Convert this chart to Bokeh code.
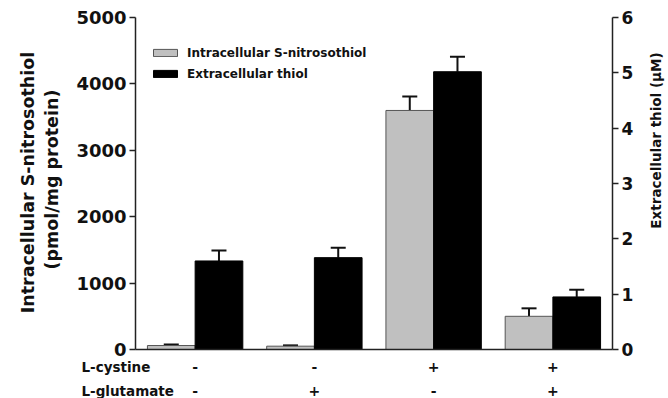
import numpy as np
from math import pi
from bokeh.plotting import figure
from bokeh.models import (Range1d, LinearAxis, FixedTicker, Whisker, TeeHead, Label,
                          ColumnDataSource)
from bokeh.embed import file_html
from bokeh.resources import INLINE

# ---- data ----
cystine = ["-", "-", "+", "+"]
glutamate = ["-", "+", "-", "+"]
snoh = [60, 50, 3600, 500]            # pmol/mg protein (left axis)
snoh_err = [15, 12, 210, 120]
thiol = [1.60, 1.66, 5.02, 0.95]      # µM (right axis)
thiol_err = [0.19, 0.18, 0.27, 0.13]
left_ticks = [0, 1000, 2000, 3000, 4000, 5000]
right_ticks = [0, 1, 2, 3, 4, 5, 6]
row_names = ["L-cystine", "L-glutamate"]
series_names = ["Intracellular S-nitrosothiol", "Extracellular thiol"]
left_title = ["Intracellular S-nitrosothiol", "(pmol/mg protein)"]
right_title = "Extracellular thiol (µM)"

FONT = "DejaVu Sans"
n = len(cystine)
centers = np.arange(n) + 0.5
bw = 0.4

# ---- layout (pixels in the canvas) ----
W, H = 668, 398
AX_L, AX_R = 135, 612      # left / right axis x
AX_B, AX_T = 349, 17       # y of 0 and of top tick
pxu_x = (AX_R - AX_L) / n
lo, hi = left_ticks[0], left_ticks[-1]
pxu_y = (AX_B - AX_T) / (hi - lo)
x0 = -AX_L / pxu_x
x1 = n + (W - AX_R) / pxu_x
y0 = lo - (H - AX_B) / pxu_y
y1 = hi + AX_T / pxu_y
k = (right_ticks[-1] - right_ticks[0]) / (hi - lo)

p = figure(width=W, height=H, output_backend="svg", toolbar_location=None,
           x_range=Range1d(x0, x1), y_range=Range1d(y0, y1),
           min_border=0, x_axis_type=None, y_axis_type=None)
p.extra_y_ranges = {"thiol": Range1d(y0 * k, y1 * k)}
p.outline_line_color = None
p.background_fill_color = "white"

gsrc = ColumnDataSource(dict(x=centers - bw / 2, top=snoh, up=np.array(snoh) + np.array(snoh_err)))
bsrc = ColumnDataSource(dict(x=centers + bw / 2, top=thiol, up=np.array(thiol) + np.array(thiol_err)))

p.vbar(x="x", top="top", width=bw, source=gsrc, fill_color="#c0c0c0",
       line_color="#555555", line_width=1, legend_label=series_names[0])
p.vbar(x="x", top="top", width=bw, source=bsrc, fill_color="black",
       line_color="black", line_width=1, y_range_name="thiol", legend_label=series_names[1])

for src, rn in ((gsrc, "default"), (bsrc, "thiol")):
    p.add_layout(Whisker(base="x", lower="top", upper="up", source=src, y_range_name=rn,
                         line_color="#111111", line_width=2, lower_head=None,
                         upper_head=TeeHead(size=15, line_width=2, line_color="#111111")))

# axes at fixed locations
left = LinearAxis(ticker=FixedTicker(ticks=left_ticks), fixed_location=0,
                  bounds=(lo, hi))
right = LinearAxis(y_range_name="thiol", ticker=FixedTicker(ticks=right_ticks),
                   fixed_location=n, bounds=(right_ticks[0], right_ticks[-1]))
bottom = LinearAxis(ticker=FixedTicker(ticks=[]), fixed_location=0, bounds=(0, n))
p.add_layout(left, "left")
p.add_layout(right, "right")
p.add_layout(bottom, "below")
for a in (left, right, bottom):
    a.axis_line_color = "#222222"
    a.axis_line_width = 1.5
    a.major_tick_line_color = "#222222"
    a.major_tick_line_width = 1.5
    a.major_tick_out = 6
    a.major_tick_in = 0
    a.minor_tick_line_color = None
    a.major_label_text_font = FONT
    a.major_label_text_font_style = "bold"
    a.major_label_text_font_size = "18px"
    a.major_label_text_color = "#111111"
    a.major_label_standoff = 3
right.major_label_text_font_size = "17px"
bottom.major_tick_line_color = None
bottom.major_label_text_font_size = "0px"

# legend
lg = p.legend[0]
lg.location = (150, H - 84)
lg.border_line_color = None
lg.background_fill_alpha = 0
lg.padding = 0
lg.margin = 0
lg.spacing = 0
lg.glyph_width = 30
lg.glyph_height = 9
lg.label_height = 21
lg.label_standoff = 7
lg.label_text_font = FONT
lg.label_text_font_style = "bold"
lg.label_text_font_size = "12px"
lg.label_text_color = "#111111"

def lab(text, x, y, size, angle=0.0, align="center", xu="screen"):
    p.add_layout(Label(x=x, y=y, x_units=xu, y_units="screen", text=text, angle=angle,
                       text_align=align, text_baseline="middle", text_font=FONT,
                       text_font_style="bold", text_font_size=size, text_color="#111111"))

# titles
lab(left_title[0], 27, H - 182, "17.5px", angle=pi / 2)
lab(left_title[1], 51, H - 179, "17.5px", angle=pi / 2)
lab(right_title, 655, H - 140, "13.5px", angle=pi / 2)

# condition rows
for row, signs, fy in ((row_names[0], cystine, 366), (row_names[1], glutamate, 390)):
    lab(row, 81, H - fy, "13.5px", align="left")
    for c, s in zip(centers, signs):
        lab(s, float(c), H - fy, "14px", xu="data")

open("out.html", "w").write(file_html(p, INLINE))
